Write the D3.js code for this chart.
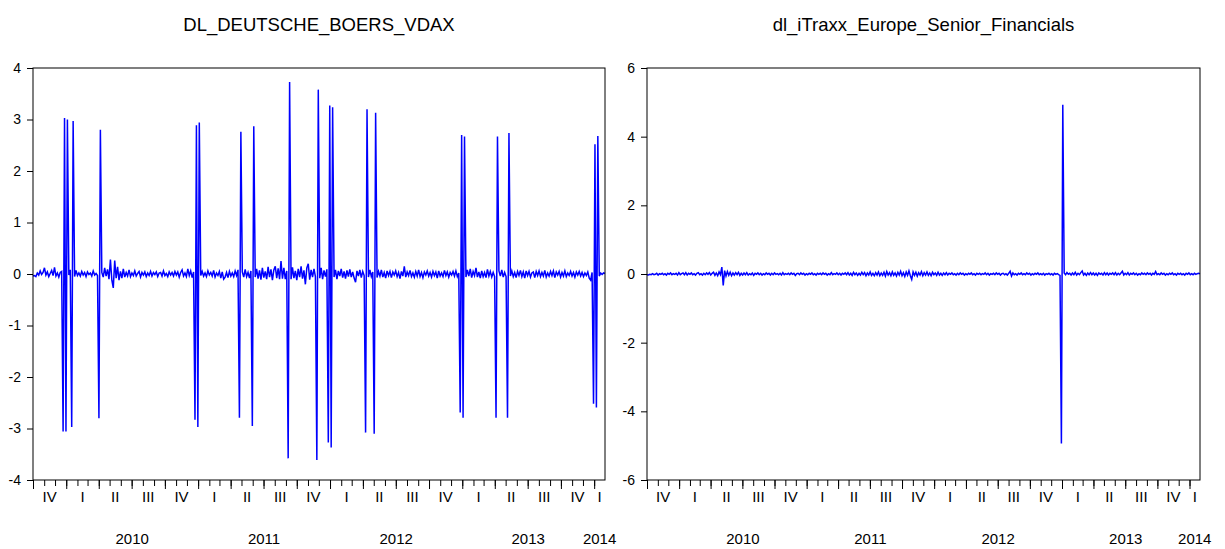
<!DOCTYPE html>
<html><head><meta charset="utf-8">
<script src="https://cdn.jsdelivr.net/npm/d3@7/dist/d3.min.js"></script>
<style>
body{margin:0;background:#fff;}
text{font-family:"Liberation Sans",Arial,sans-serif;fill:#000;}
</style>
</head><body>
<svg id="chart" width="1225" height="549"></svg>
<script>
// ---------------- data ----------------
const titles = ["DL_DEUTSCHE_BOERS_VDAX", "dl_iTraxx_Europe_Senior_Financials"];
const startDate = "2009-10-01";
const endDate = "2014-01-31";
const quarterLabels = ["I", "II", "III", "IV"];
const yearLabels = [2010, 2011, 2012, 2013, 2014];
const yTicksLeft = [-4, -3, -2, -1, 0, 1, 2, 3, 4];
const yTicksRight = [-6, -4, -2, 0, 2, 4, 6];

const vdax = [
-.04,-.03,-.05,.02,-.02,.06,-.01,.03,.12,-.02,.04,-.05,.01,.07,-.03,.13,-.04,.02,-.06,.03,
.05,-3.06,3.03,-3.06,3.00,-.02,.08,-2.97,2.97,-.05,.07,-.03,.02,-.04,.05,-.02,.03,-.05,.04,-.01,
.02,-.04,.06,-.02,.01,-.03,-2.80,2.80,.03,-.06,.12,-.04,.09,-.1,.28,-.12,-.27,.26,-.08,.14,
-.12,.05,-.08,.1,-.06,.03,-.04,.08,-.05,.02,-.03,.06,-.04,.01,.05,-.06,.03,-.02,.04,-.05,
.02,-.03,.05,-.04,.03,-.01,.04,-.05,.02,.03,-.04,.06,-.03,.01,-.05,.04,-.02,.03,-.04,.05,
-.02,.04,-.06,.03,.08,-.04,.02,-.05,.1,-.03,.06,-.07,.04,-2.83,2.89,-2.97,2.94,-.03,.05,-.04,
.02,-.05,.06,-.02,.03,-.04,.07,-.06,.02,-.03,.05,-.08,.04,-.1,-.06,.03,-.07,.05,-.04,.02,
-.05,.06,-.03,.08,-2.79,2.76,.04,-.06,.09,-.05,.03,-.08,.06,-2.95,2.87,-.06,.1,-.09,.07,-.11,
.12,-.07,.05,-.1,.14,-.06,.09,-.12,.08,.15,-.08,.11,-.1,.25,-.09,.12,-.1,.06,-3.58,3.73,
-.1,.13,-.08,.06,-.12,.1,-.06,.15,-.09,.07,-.2,.12,.2,-.11,.08,-.06,.1,-.05,-3.61,3.58,
-.08,.12,-.1,.07,-.05,.09,-3.27,3.27,-3.37,3.24,-.06,.08,-.1,.06,-.04,.1,-.07,.05,-.09,.07,
-.05,.09,-.06,.04,-.08,-.16,.06,-.04,.08,-.07,.05,-.03,-3.08,3.20,-.06,.08,-.05,.04,-3.10,3.13,
-.07,.05,-.04,.08,-.06,.03,-.08,.06,-.03,.05,-.07,.04,-.02,.06,-.05,.03,-.09,.05,-.04,.15,
-.06,.04,-.03,.07,-.05,.02,-.06,.05,-.04,.08,-.05,.03,-.07,.04,-.02,.06,-.04,.03,-.06,.05,
-.03,.04,-.08,.06,-.04,.02,-.05,.07,-.03,.04,-.06,.03,-.02,.05,-.04,.06,-.05,.02,-2.69,2.70,
-2.79,2.67,-.06,.08,-.04,.1,-.07,.05,-.03,.12,-.06,.04,-.08,.06,-.05,.03,-.07,.09,-.04,.05,
-.06,.03,-.05,-2.79,2.67,.06,-.04,.08,-.06,.03,-.05,-2.79,2.74,-.04,.06,-.05,.03,-.07,.05,-.03,
.07,-.05,.04,-.08,.06,-.03,.05,-.06,.02,.04,-.07,.05,-.03,.06,-.05,.03,-.04,.07,-.06,.02,
-.04,.05,-.03,.06,-.07,.04,-.02,.05,-.06,.03,-.04,.06,-.05,.02,-.03,.05,-.04,.03,-.06,.04,
-.02,.05,-.04,.03,-.05,.02,-.03,.04,-.08,-.12,.03,-2.52,2.52,-2.59,2.68,-.04,.02,-.01,.02,.01
];

const itraxx = [
-.02,-.03,-.01,-.02,.01,-.02,-.01,.02,-.03,.01,-.01,.02,-.02,.01,-.03,.02,-.01,.03,-.02,.01,
-.01,.02,-.03,.04,-.02,.01,.03,-.02,.04,-.03,.02,-.01,.03,-.02,.01,-.03,.02,.04,-.02,.01,
-.03,.02,-.02,.03,-.01,.04,-.03,.02,.05,-.04,.03,-.05,.06,-.02,.2,-.33,.1,-.06,.07,-.04,
.05,-.05,.03,-.03,.04,-.02,.05,-.04,.02,-.03,.03,-.02,.04,-.03,.01,-.02,.03,-.04,.02,-.01,
.03,-.02,.02,-.03,.01,-.02,.03,-.01,.02,-.03,.02,-.02,.03,-.01,.01,-.02,.02,-.03,.04,-.02,
.01,-.01,.02,-.02,.03,-.01,.02,-.04,.01,.02,-.02,.03,-.01,.02,-.03,.01,-.02,.02,-.01,.03,
-.02,.01,-.03,.02,-.01,.02,-.02,.03,-.01,.02,-.03,.01,-.02,.04,-.02,.01,-.01,.03,-.02,.02,
-.03,.02,-.01,.03,-.02,.04,-.03,.02,-.04,.05,-.02,.03,-.04,.02,-.03,.05,-.02,.04,-.05,.03,
-.03,.06,-.04,.02,-.05,.04,-.03,.06,-.05,.03,-.04,.05,-.06,.07,-.03,.04,-.05,.06,-.04,.03,
-.06,.05,-.03,.08,-.05,.04,-.07,.06,-.04,.09,-.05,-.16,.06,-.04,.05,-.06,.04,-.03,.07,-.05,
.04,-.03,.06,-.04,.03,-.05,.05,-.02,.03,-.04,.05,-.03,.02,-.04,.03,-.02,.04,-.03,.02,-.01,
.03,-.02,.01,-.03,.02,-.02,.03,-.01,.02,-.03,.01,-.02,.02,-.01,.03,-.02,.01,-.03,.02,-.01,
.02,-.02,.01,-.01,.03,-.02,.02,-.03,.01,-.01,.02,-.02,.03,-.01,.02,-.03,.01,.02,-.02,.01,
-.03,.02,.08,-.06,.03,-.02,.01,-.03,.02,-.01,.03,-.02,.01,-.02,.03,-.01,.02,-.03,.01,-.02,
.02,-.01,.03,-.02,.01,-.02,.02,-.03,.01,-.01,.02,-.02,.01,-.03,.02,-.01,.01,-.02,-.04,-4.94,
4.93,.03,-.02,.04,-.01,.02,-.03,.03,-.02,.05,-.03,.02,-.02,.04,.09,-.03,.02,-.04,.03,-.02,
.04,-.02,.03,-.03,.02,-.04,.03,-.01,.02,-.03,.04,-.02,.03,-.03,.02,-.01,.03,-.02,.04,-.03,
.02,-.02,.03,.08,-.03,.02,-.02,.04,-.03,.02,-.01,.03,-.02,.02,-.03,.01,-.02,.03,-.01,.02,
-.02,.03,-.01,.02,-.03,.02,-.01,.07,-.02,.01,-.02,.03,-.01,.02,-.03,.01,-.02,.02,-.01,.03,
-.02,.01,-.03,.02,-.01,.02,-.02,.01,-.03,.02,-.01,.03,-.02,.01,-.02,.02,-.01,.01,.02,.01
];

// ---------------- layout ----------------
const svg = d3.select("#chart");
const parse = d3.timeParse("%Y-%m-%d");
const t0 = parse(startDate), t1 = parse(endDate);
const plotTop = 68, plotBottom = 480;

const panels = [
  {title: titles[0], values: vdax, yDomain: [-4, 4], yTicks: yTicksLeft, x0: 33, x1: 605},
  {title: titles[1], values: itraxx, yDomain: [-6, 6], yTicks: yTicksRight, x0: 647, x1: 1200}
];

panels.forEach(p => {
  const g = svg.append("g");
  const x = d3.scaleTime().domain([t0, t1]).range([p.x0, p.x1]);
  const y = d3.scaleLinear().domain(p.yDomain).range([plotBottom, plotTop]);
  const n = p.values.length;
  const pts = p.values.map((v, i) => ({t: new Date(+t0 + i * (t1 - t0) / (n - 1)), v}));

  // title
  g.append("text").attr("x", (p.x0 + p.x1) / 2).attr("y", 31)
    .attr("text-anchor", "middle").style("font-size", "18.5px").text(p.title);

  // line
  g.append("path").datum(pts)
    .attr("fill", "none").attr("stroke", "#0000ff").attr("stroke-width", 1.5)
    .attr("stroke-linejoin", "miter")
    .attr("d", d3.line().x(d => x(d.t)).y(d => y(d.v)));

  // frame
  g.append("rect").attr("x", p.x0).attr("y", plotTop)
    .attr("width", p.x1 - p.x0).attr("height", plotBottom - plotTop)
    .attr("fill", "none").attr("stroke", "#000").attr("stroke-width", 1);

  // y axis
  const ya = g.append("g").attr("transform", `translate(${p.x0},0)`)
    .call(d3.axisLeft(y).tickValues(p.yTicks).tickFormat(d => String(d)).tickSize(6).tickPadding(6).tickSizeOuter(0));
  ya.select(".domain").remove();
  ya.selectAll("text").style("font-size", "14px");

  // x axis: month minor ticks, quarter major ticks
  const months = d3.timeMonth.range(t0, t1);
  const quarters = months.filter(m => m.getMonth() % 3 === 0);
  const xa1 = g.append("g").attr("transform", `translate(0,${plotBottom})`)
    .call(d3.axisBottom(x).tickValues(months).tickSize(6).tickFormat("").tickSizeOuter(0));
  xa1.select(".domain").remove();
  const xa2 = g.append("g").attr("transform", `translate(0,${plotBottom})`)
    .call(d3.axisBottom(x).tickValues(quarters).tickSize(9).tickFormat("").tickSizeOuter(0));
  xa2.select(".domain").remove();

  // quarter labels centred in each (visible part of the) quarter
  quarters.forEach(q => {
    const qEnd = d3.timeMonth.offset(q, 3);
    const a = Math.max(x(q), p.x0), b = Math.min(x(qEnd), p.x1);
    g.append("text").attr("x", (a + b) / 2).attr("y", 502)
      .attr("text-anchor", "middle").style("font-size", "15px")
      .text(quarterLabels[q.getMonth() / 3]);
  });

  // year labels
  yearLabels.forEach(yr => {
    const ys = new Date(yr, 0, 1), ye = new Date(yr + 1, 0, 1);
    const a = Math.max(x(ys), p.x0), b = Math.min(x(ye), p.x1);
    g.append("text").attr("x", (a + b) / 2).attr("y", 544)
      .attr("text-anchor", "middle").style("font-size", "15px").text(yr);
  });
});
</script>
</body></html>
